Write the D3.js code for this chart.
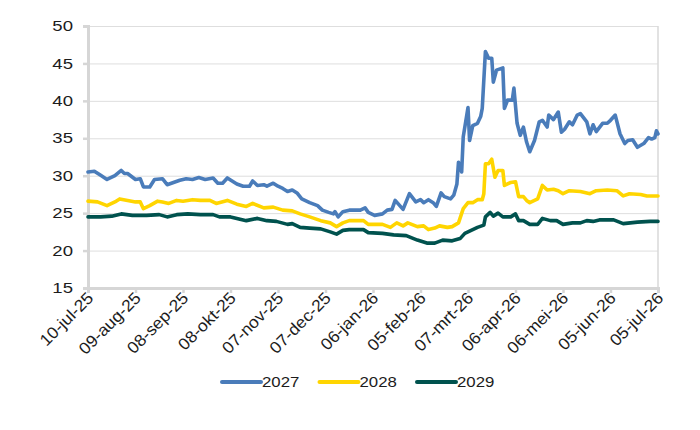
<!DOCTYPE html>
<html>
<head>
<meta charset="utf-8">
<script src="https://cdn.jsdelivr.net/npm/d3@7/dist/d3.min.js"></script>
<style>
  body { margin: 0; background: #fff; }
  svg text { font-family: "Liberation Sans", Arial, sans-serif; fill: #1c1c1c; }
</style>
</head>
<body>
<div id="chart"></div>
<script>
// x axis labels (Dutch month abbreviations), one every 30 days
const tickLabels = ['10-jul-25', '09-aug-25', '08-sep-25', '08-okt-25', '07-nov-25', '07-dec-25',
  '06-jan-26', '05-feb-26', '07-mrt-26', '06-apr-26', '06-mei-26', '05-jun-26', '05-jul-26'];
const yTicks = [15, 20, 25, 30, 35, 40, 45, 50];
const seriesNames = ['2027', '2028', '2029'];
const seriesColors = ['#4a7cba', '#ffd500', '#00524e'];

// days since 10-jul-25
const days2027 = [0, 4, 8, 12, 17, 21, 23, 25, 30, 33, 35, 39, 42, 47, 50, 54, 58, 62, 66, 70, 74, 79, 82, 85, 88,
  94, 98, 102, 104, 107, 111, 113, 117, 120, 123, 126, 129, 132, 135, 140, 145, 148, 152, 155, 156, 158, 161, 165,
  172, 175, 177, 181, 186, 189, 192, 194, 199, 203, 207, 210, 212, 215, 218, 220, 223, 225, 229, 231, 233, 234,
  236, 237, 240, 241, 243, 246, 248, 249, 251, 253, 255, 256, 258, 262, 263, 265, 268, 269, 271, 273, 275, 277,
  279, 282, 285, 287, 290, 291, 294, 297, 299, 301, 304, 306, 309, 311, 315, 317, 319, 321, 325, 328, 330, 333,
  336, 339, 341, 344, 347, 351, 354, 356, 358, 359, 360];
const values2027 = [30.5, 30.6, 30.05, 29.5, 30.0, 30.7, 30.3, 30.3, 29.5, 29.6, 28.5, 28.5, 29.5, 29.6, 28.8, 29.1,
  29.4, 29.6, 29.5, 29.75, 29.5, 29.7, 29.0, 29.0, 29.7, 28.9, 28.6, 28.6, 29.3, 28.7, 28.8, 28.6, 29.0, 28.6,
  28.3, 27.9, 28.1, 27.7, 26.9, 26.4, 26.0, 25.4, 25.1, 24.9, 25.2, 24.5, 25.2, 25.4, 25.4, 25.7, 25.1, 24.7,
  24.9, 25.4, 25.5, 26.7, 25.5, 27.6, 26.5, 26.8, 26.4, 26.8, 26.4, 25.9, 27.7, 27.2, 26.9, 27.4, 28.9, 31.8,
  30.5, 35.2, 39.1, 34.7, 36.7, 37.0, 37.9, 39.0, 46.6, 45.7, 45.7, 42.5, 44.1, 44.4, 39.0, 40.1, 40.1, 41.7,
  37.0, 35.4, 36.5, 34.5, 33.2, 34.7, 37.2, 37.4, 36.5, 38.1, 37.5, 38.5, 35.8, 36.2, 37.2, 36.8, 38.1, 38.3,
  37.2, 35.6, 36.8, 35.9, 37.0, 37.0, 37.4, 38.1, 35.6, 34.3, 34.7, 34.8, 33.8, 34.3, 35.1, 34.9, 35.1, 36.0, 35.6];

const days2028 = [0, 6, 12, 17, 20, 25, 30, 33, 35, 39, 44, 47, 51, 56, 60, 66, 71, 77, 81, 88, 94, 100, 104, 111,
  117, 123, 129, 134, 140, 147, 153, 157, 161, 165, 174, 177, 186, 191, 195, 199, 202, 208, 212, 215, 219, 222,
  227, 230, 234, 237, 240, 243, 246, 249, 250, 251, 253, 255, 257, 259, 262, 263, 267, 270, 272, 275, 277, 279,
  284, 287, 290, 294, 297, 300, 304, 311, 317, 321, 328, 334, 338, 342, 349, 353, 360];
const values2028 = [26.6, 26.5, 26.0, 26.5, 26.9, 26.7, 26.5, 26.5, 25.6, 26.0, 26.6, 26.5, 26.3, 26.7, 26.6, 26.8,
  26.7, 26.7, 26.3, 26.7, 26.2, 25.9, 26.3, 25.7, 25.8, 25.4, 25.3, 24.9, 24.5, 24.0, 23.7, 23.2, 23.7, 24.0,
  24.0, 23.5, 23.5, 23.1, 23.7, 23.3, 23.7, 23.2, 23.3, 22.8, 23.0, 23.3, 23.1, 23.2, 23.7, 25.6, 26.4, 26.4,
  26.8, 26.8, 27.6, 31.6, 31.6, 32.2, 29.8, 30.7, 30.7, 28.7, 29.1, 29.2, 27.2, 27.2, 26.7, 26.4, 26.9, 28.7,
  28.1, 28.2, 28.0, 27.6, 28.0, 27.9, 27.6, 28.0, 28.1, 28.0, 27.3, 27.6, 27.5, 27.3, 27.3];

const days2029 = [0, 8, 15, 21, 28, 37, 45, 50, 56, 63, 71, 79, 83, 90, 96, 100, 107, 113, 119, 126, 129, 134, 140,
  147, 153, 157, 161, 165, 174, 177, 186, 193, 201, 208, 214, 219, 224, 230, 235, 238, 243, 246, 250, 251, 254,
  256, 259, 262, 267, 270, 272, 275, 279, 284, 287, 292, 296, 300, 306, 311, 315, 319, 323, 332, 338, 347, 355, 360];
const values2029 = [24.5, 24.5, 24.6, 24.9, 24.7, 24.7, 24.8, 24.5, 24.8, 24.9, 24.8, 24.8, 24.5, 24.5, 24.2, 24.0,
  24.3, 24.0, 23.9, 23.5, 23.6, 23.1, 23.0, 22.9, 22.5, 22.2, 22.7, 22.8, 22.8, 22.4, 22.3, 22.1, 22.0, 21.4,
  21.0, 21.0, 21.4, 21.3, 21.6, 22.3, 22.8, 23.1, 23.4, 24.5, 25.1, 24.6, 25.0, 24.5, 24.5, 24.9, 24.0, 24.0,
  23.5, 23.5, 24.3, 24.0, 24.0, 23.5, 23.7, 23.7, 24.0, 23.9, 24.1, 24.1, 23.6, 23.8, 23.9, 23.9];

const allDays = [days2027, days2028, days2029];
const allValues = [values2027, values2028, values2029];

const width = 700, height = 430;
const margin = { top: 26, right: 42, bottom: 142, left: 88 };
const plotW = width - margin.left - margin.right;
const plotH = height - margin.top - margin.bottom;

const monthIdx = { jan: 0, feb: 1, mrt: 2, apr: 3, mei: 4, jun: 5, jul: 6, aug: 7, sep: 8, okt: 9, nov: 10, dec: 11 };
function parseLabel(s) {
  const p = s.split('-');
  return new Date(2000 + +p[2], monthIdx[p[1]], +p[0]);
}
const tickDates = tickLabels.map(parseLabel);
const startDate = tickDates[0];

const x = d3.scaleTime()
  .domain([startDate, tickDates[tickDates.length - 1]])
  .range([0, plotW]);
const y = d3.scaleLinear().domain([15, 50]).range([plotH, 0]);

const svg = d3.select('#chart').append('svg')
  .attr('width', width)
  .attr('height', height);

const g = svg.append('g').attr('transform', `translate(${margin.left},${margin.top})`);

// gridlines
g.append('g')
  .call(d3.axisLeft(y).tickValues(yTicks).tickSize(-plotW).tickFormat(''))
  .call(s => s.select('.domain').remove())
  .selectAll('line').attr('stroke', '#dedede').attr('stroke-width', 1);

// right border
g.append('line')
  .attr('x1', plotW).attr('x2', plotW).attr('y1', 0).attr('y2', plotH)
  .attr('stroke', '#d9d9d9').attr('stroke-width', 1.5);

// y axis (the source uses a wide face, so stretch the labels a bit)
const yAxis = g.append('g')
  .call(d3.axisLeft(y).tickValues(yTicks).tickSize(5).tickFormat(d3.format('d')));
yAxis.select('.domain').attr('stroke', '#d6d6d6').attr('stroke-width', 3);
yAxis.selectAll('.tick line').attr('stroke', '#d6d6d6').attr('stroke-width', 2.5);
yAxis.selectAll('text')
  .attr('font-size', 14.5)
  .attr('x', 0)
  .attr('transform', 'translate(-15,0) scale(1.28,1)')
  .style('fill', '#1c1c1c');

// x axis
const xAxis = g.append('g')
  .attr('transform', `translate(0,${plotH})`)
  .call(d3.axisBottom(x).tickValues(tickDates).tickSize(5).tickFormat((d, i) => tickLabels[i]));
xAxis.select('.domain').attr('stroke', '#d6d6d6').attr('stroke-width', 3);
xAxis.selectAll('.tick line').attr('stroke', '#d6d6d6').attr('stroke-width', 2.5);
xAxis.selectAll('text')
  .attr('font-size', 16.5)
  .attr('x', 0).attr('y', 0).attr('dy', 0)
  .attr('text-anchor', 'end')
  .attr('transform', 'translate(6,11) rotate(-45) scale(1.06,1)')
  .style('fill', '#1c1c1c');

// series lines
const line = d3.line()
  .x(d => x(d3.timeDay.offset(startDate, d[0])))
  .y(d => y(d[1]));

seriesNames.forEach((name, i) => {
  const pts = allDays[i].map((d, j) => [d, allValues[i][j]]);
  g.append('path')
    .datum(pts)
    .attr('fill', 'none')
    .attr('stroke', seriesColors[i])
    .attr('stroke-width', 3.6)
    .attr('stroke-linejoin', 'round')
    .attr('stroke-linecap', 'round')
    .attr('d', line);
});

// legend
const legend = svg.append('g').attr('transform', 'translate(222,382)');
seriesNames.forEach((name, i) => {
  const item = legend.append('g').attr('transform', `translate(${i * 97.5},0)`);
  item.append('line')
    .attr('x1', 0).attr('x2', 39)
    .attr('stroke', seriesColors[i])
    .attr('stroke-width', 4)
    .attr('stroke-linecap', 'round');
  item.append('text')
    .attr('x', 40)
    .attr('dy', '0.36em')
    .attr('font-size', 15)
    .attr('transform', 'translate(40,0) scale(1.12,1) translate(-40,0)')
    .text(name);
});
</script>
</body>
</html>
